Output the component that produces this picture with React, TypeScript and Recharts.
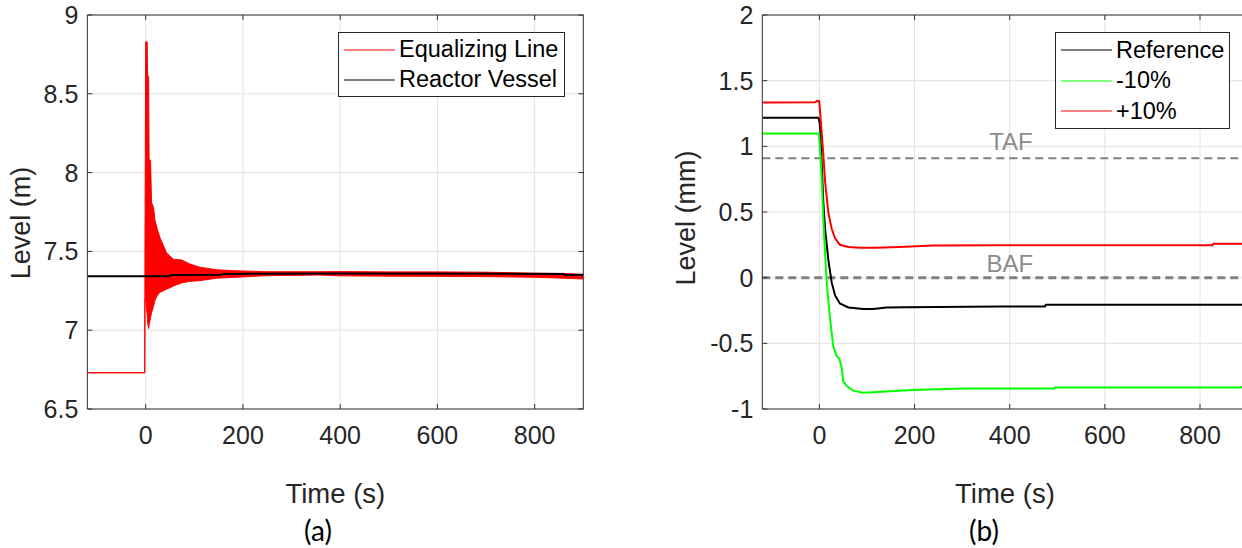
import React from 'react';
import {
  ComposedChart,
  LineChart,
  Line,
  Area,
  XAxis,
  YAxis,
  CartesianGrid,
  ReferenceLine,
  Legend,
} from 'recharts';

// ---------- shared ticks ----------
const xTicks = [0, 200, 400, 600, 800];
const xDomain = [-120, 900];
const leftYTicks = [6.5, 7, 7.5, 8, 8.5, 9];
const rightYTicks = [-1, -0.5, 0, 0.5, 1, 1.5, 2];

// ---------- panel (a) ----------
const eqTimes = [-120, -2, -1.5, 0, 3, 4, 6, 7, 10, 12, 16, 19, 24, 29, 36, 43, 50, 57, 74, 91, 111, 145, 180, 248, 357, 400, 500, 600, 700, 800, 860, 900];
const eqHigh = [6.73, 6.73, 7.54, 8.83, 8.83, 8.61, 8.61, 8.08, 8.08, 7.81, 7.78, 7.70, 7.64, 7.59, 7.54, 7.49, 7.47, 7.45, 7.445, 7.42, 7.40, 7.384, 7.378, 7.371, 7.371, 7.372, 7.37, 7.37, 7.368, 7.362, 7.36, 7.355];
const eqLow = [6.73, 6.73, 7.20, 7.20, 7.10, 7.05, 7.01, 7.03, 7.08, 7.11, 7.15, 7.19, 7.22, 7.24, 7.25, 7.26, 7.27, 7.28, 7.30, 7.31, 7.314, 7.33, 7.335, 7.346, 7.35, 7.345, 7.343, 7.342, 7.34, 7.336, 7.33, 7.325];

const rvTimes = [-120, 50, 52, 155, 157, 400, 860, 862, 900];
const rvLevel = [7.342, 7.342, 7.35, 7.352, 7.357, 7.36, 7.357, 7.35, 7.35];

const legendA = [
  { name: 'Equalizing Line', color: '#ff0000' },
  { name: 'Reactor Vessel', color: '#000000' },
];

// ---------- panel (b) ----------
const refTimes = [-120, -2, 0, 1.4, 5, 8.4, 12, 19, 26, 33, 43, 61, 92, 113, 141, 183, 379, 474, 476, 900];
const refLevel = [1.217, 1.217, 1.19, 1.145, 0.855, 0.565, 0.37, 0.13, -0.04, -0.135, -0.196, -0.227, -0.239, -0.239, -0.227, -0.225, -0.22, -0.22, -0.207, -0.207];

const minusTimes = [-120, -1, 0, 2.8, 5, 8.4, 12, 15.4, 22, 29, 36, 42, 47, 50, 57, 71, 92, 113, 148, 197, 302, 493, 495, 884, 900];
const minusLevel = [1.097, 1.097, 1.05, 0.90, 0.73, 0.444, 0.18, -0.04, -0.30, -0.52, -0.594, -0.618, -0.69, -0.787, -0.824, -0.86, -0.877, -0.872, -0.865, -0.855, -0.843, -0.843, -0.836, -0.836, -0.823];

const plusTimes = [-120, -10, -5, -1, 0, 5, 8.4, 12, 19, 26, 33, 43, 61, 85, 119, 169, 239, 379, 826, 828, 900];
const plusLevel = [1.333, 1.335, 1.345, 1.345, 1.33, 1.097, 0.93, 0.73, 0.49, 0.37, 0.30, 0.25, 0.234, 0.227, 0.227, 0.234, 0.244, 0.246, 0.247, 0.258, 0.258];

const tafLevel = 0.91;
const bafLevel = 0;

const legendB = [
  { name: 'Reference', color: '#000000' },
  { name: '-10%', color: '#00ff00' },
  { name: '+10%', color: '#ff0000' },
];

// ---------- built tables ----------
const bandData = eqTimes.map((t, i) => ({ t, band: [eqLow[i], eqHigh[i]] }));
const rvData = rvTimes.map((t, i) => ({ t, v: rvLevel[i] }));
const refData = refTimes.map((t, i) => ({ t, v: refLevel[i] }));
const minusData = minusTimes.map((t, i) => ({ t, v: minusLevel[i] }));
const plusData = plusTimes.map((t, i) => ({ t, v: plusLevel[i] }));

// ---------- styling ----------
const FONT = 'Liberation Sans, Arimo, Arial, sans-serif';
const AXIS = '#333333';
const TEXT = '#262626';
const GRID = '#e3e3e3';
const PLOT_H = 394;
const TICK_FS = 25;

const makeXTick = (plotH: number) => (props: any) => {
  const { x, y, payload } = props;
  return (
    <g>
      <line x1={x} y1={y} x2={x} y2={y - 5} stroke={AXIS} strokeWidth={1} />
      <line x1={x} y1={y - plotH} x2={x} y2={y - plotH + 5} stroke={AXIS} strokeWidth={1} />
      <text x={x} y={y + 35} textAnchor="middle" style={{ fontFamily: FONT, fontSize: TICK_FS }} fill={TEXT}>
        {payload.value}
      </text>
    </g>
  );
};

const makeYTick = (plotW: number) => (props: any) => {
  const { x, y, payload } = props;
  return (
    <g>
      <line x1={x} y1={y} x2={x + 5} y2={y} stroke={AXIS} strokeWidth={1} />
      <line x1={x + plotW} y1={y} x2={x + plotW - 5} y2={y} stroke={AXIS} strokeWidth={1} />
      <text x={x - 9} y={y + 8.9} textAnchor="end" style={{ fontFamily: FONT, fontSize: TICK_FS }} fill={TEXT}>
        {String(payload.value)}
      </text>
    </g>
  );
};

function LegendBox({ items, width, rowH }: { items: { name: string; color: string }[]; width: number; rowH: number }) {
  return (
    <div
      style={{
        border: '1px solid #262626',
        background: '#ffffff',
        width,
        boxSizing: 'border-box',
        padding: '2px 0 1px 5px',
        fontFamily: FONT,
        fontSize: 23.5,
        color: '#000',
      }}
    >
      {items.map((it) => (
        <div key={it.name} style={{ display: 'flex', alignItems: 'center', height: rowH, whiteSpace: 'nowrap' }}>
          <svg width={51} height={4} style={{ marginRight: 4, flex: 'none', display: 'block' }}>
            <line x1={0} y1={2} x2={51} y2={2} stroke={it.color} strokeWidth={1.2} />
          </svg>
          <span style={{ lineHeight: 1 }}>{it.name}</span>
        </div>
      ))}
    </div>
  );
}

const rotatedTitle = (text: string, cx: number, cy: number) => () => (
  <text
    x={cx}
    y={cy}
    transform={`rotate(-90 ${cx} ${cy})`}
    textAnchor="middle"
    dominantBaseline="central"
    style={{ fontFamily: FONT, fontSize: 27 }}
    fill={TEXT}
  >
    {text}
  </text>
);

const panelLabel = (text: string, cx: number, cy: number) => (
  <div
    style={{
      position: 'absolute',
      left: cx,
      top: cy,
      transform: 'translate(-50%, -50%)',
      fontFamily: 'Lato, "Open Sans", sans-serif',
      fontSize: 28,
      lineHeight: 1,
      color: '#000',
      whiteSpace: 'nowrap',
    }}
  >
    {text}
  </div>
);

export default function App() {
  const leftPlotW = 583.3 - 87.35;
  const rightPlotW = 1247.6 - 762.3;
  return (
    <div
      style={{
        position: 'absolute',
        left: 0,
        top: 0,
        width: 1242,
        height: 548,
        overflow: 'hidden',
        background: '#ffffff',
      }}
    >
      {/* Panel (a) */}
      <div style={{ position: 'absolute', left: 0, top: 0, width: 620, height: 548 }}>
        <ComposedChart
          width={620}
          height={548}
          data={bandData}
          margin={{ top: 15, left: 27.35, right: 36.7, bottom: 109 }}
        >
          <CartesianGrid stroke={GRID} strokeWidth={1} />
          <XAxis
            type="number"
            dataKey="t"
            domain={xDomain}
            ticks={xTicks}
            interval={0}
            height={30}
            tickSize={0}
            tickMargin={0}
            tickLine={false}
            axisLine={{ stroke: AXIS, strokeWidth: 1 }}
            tick={makeXTick(PLOT_H)}
            allowDataOverflow
            label={{ value: 'Time (s)', position: 'bottom', offset: 44, fontSize: 27.5, fill: TEXT, fontFamily: FONT }}
          />
          <YAxis
            type="number"
            domain={[6.5, 9]}
            ticks={leftYTicks}
            interval={0}
            width={60}
            tickSize={0}
            tickMargin={0}
            tickLine={false}
            axisLine={{ stroke: AXIS, strokeWidth: 1 }}
            tick={makeYTick(leftPlotW)}
            allowDataOverflow
            label={{ content: rotatedTitle('Level (m)', 21, 223) }}
          />
          <ReferenceLine y={9} stroke={AXIS} strokeWidth={1} />
          <ReferenceLine x={900} stroke={AXIS} strokeWidth={1} />
          <Area
            type="linear"
            dataKey="band"
            stroke="#ff0000"
            strokeWidth={1}
            fill="#ff0000"
            fillOpacity={1}
            isAnimationActive={false}
            dot={false}
            activeDot={false}
            name="Equalizing Line"
          />
          <Line
            data={rvData}
            type="linear"
            dataKey="v"
            stroke="#000000"
            strokeWidth={2}
            dot={false}
            activeDot={false}
            isAnimationActive={false}
            name="Reactor Vessel"
          />
          <Legend
            layout="horizontal"
            verticalAlign="middle"
            align="center"
            wrapperStyle={{ left: 338, top: 32, width: 227, height: 'auto' }}
            content={() => <LegendBox items={legendA} width={227} rowH={30} />}
          />
        </ComposedChart>
      </div>

      {/* Panel (b) */}
      <div style={{ position: 'absolute', left: 640, top: 0, width: 620, height: 548 }}>
        <LineChart
          width={620}
          height={548}
          margin={{ top: 15, left: 62.3, right: 12.4, bottom: 109 }}
        >
          <CartesianGrid stroke={GRID} strokeWidth={1} />
          <XAxis
            type="number"
            dataKey="t"
            domain={xDomain}
            ticks={xTicks}
            interval={0}
            height={30}
            tickSize={0}
            tickMargin={0}
            tickLine={false}
            axisLine={{ stroke: AXIS, strokeWidth: 1 }}
            tick={makeXTick(PLOT_H)}
            allowDataOverflow
            label={{ value: 'Time (s)', position: 'bottom', offset: 44, fontSize: 27.5, fill: TEXT, fontFamily: FONT }}
          />
          <YAxis
            type="number"
            domain={[-1, 2]}
            ticks={rightYTicks}
            interval={0}
            width={60}
            tickSize={0}
            tickMargin={0}
            tickLine={false}
            axisLine={{ stroke: AXIS, strokeWidth: 1 }}
            tick={makeYTick(rightPlotW)}
            allowDataOverflow
            label={{ content: rotatedTitle('Level (mm)', 46, 218) }}
          />
          <ReferenceLine y={2} stroke={AXIS} strokeWidth={1} />
          <ReferenceLine
            y={tafLevel}
            stroke="#808080"
            strokeWidth={2}
            strokeDasharray="8 5"
            label={{ value: 'TAF', position: 'top', offset: 8, dx: 6, fontSize: 24, fill: '#8c8c8c', fontFamily: FONT }}
          />
          <ReferenceLine
            y={bafLevel}
            stroke="#808080"
            strokeWidth={3}
            strokeDasharray="8 5"
            label={{ value: 'BAF', position: 'top', offset: 6, dx: 5, fontSize: 24, fill: '#8c8c8c', fontFamily: FONT }}
          />
          <Line data={refData} type="linear" dataKey="v" stroke="#000000" strokeWidth={2} dot={false} activeDot={false} isAnimationActive={false} name="Reference" />
          <Line data={minusData} type="linear" dataKey="v" stroke="#00ff00" strokeWidth={2} dot={false} activeDot={false} isAnimationActive={false} name="-10%" />
          <Line data={plusData} type="linear" dataKey="v" stroke="#ff0000" strokeWidth={2} dot={false} activeDot={false} isAnimationActive={false} name="+10%" />
          <Legend
            layout="horizontal"
            verticalAlign="middle"
            align="center"
            wrapperStyle={{ left: 415, top: 32, width: 175, height: 'auto' }}
            content={() => <LegendBox items={legendB} width={175} rowH={30.5} />}
          />
        </LineChart>
      </div>

      {panelLabel('(a)', 318, 530)}
      {panelLabel('(b)', 984, 530)}
    </div>
  );
}
